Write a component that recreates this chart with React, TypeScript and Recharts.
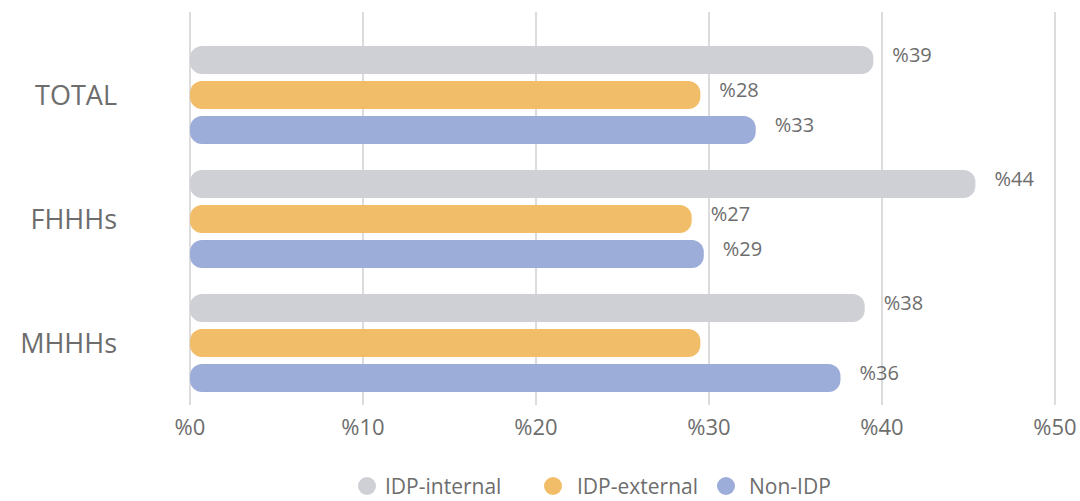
import { BarChart, Bar, XAxis, YAxis, CartesianGrid, Legend, LabelList } from "recharts";

const categories = ["TOTAL", "FHHHs", "MHHHs"];
const idpInternal = [39.5, 45.4, 39.0];
const idpExternal = [29.5, 29.0, 29.5];
const nonIdp = [32.7, 29.7, 37.6];
const internalLabels = ["%39", "%44", "%38"];
const externalLabels = ["%28", "%27", ""];
const nonIdpLabels = ["%33", "%29", "%36"];
const xTicks = [0, 10, 20, 30, 40, 50];

const series = [
  { key: "internal", name: "IDP-internal", color: "#cfd0d5", left: 358, gap: 9 },
  { key: "external", name: "IDP-external", color: "#f2bd69", left: 544, gap: 15 },
  { key: "nonidp", name: "Non-IDP", color: "#9dadd9", left: 717, gap: 14 },
];

const data = categories.map((c, i) => ({
  name: c,
  internal: idpInternal[i],
  external: idpExternal[i],
  nonidp: nonIdp[i],
  internalLabel: internalLabels[i],
  externalLabel: externalLabels[i],
  nonidpLabel: nonIdpLabels[i],
}));

const FONT = "'Open Sans', sans-serif";
const GREY = "#6d6d6d";

const ValueLabel = (props: any) => {
  const { x, y, width, height, value } = props;
  if (!value) return null;
  return (
    <text
      x={x + width + 19}
      y={y + height / 2 - 3}
      fill={GREY}
      fontSize={20}
      fontFamily={FONT}
      dominantBaseline="middle"
    >
      {value}
    </text>
  );
};

const LegendContent = () => (
  <div style={{ position: "relative", height: 30, fontFamily: FONT, fontSize: 21, color: GREY }}>
    {series.map((s) => (
      <div
        key={s.key}
        style={{ position: "absolute", left: s.left, top: 0, height: 30, display: "flex", alignItems: "center" }}
      >
        <span
          style={{
            width: 18,
            height: 18,
            borderRadius: 9,
            background: s.color,
            display: "inline-block",
            marginRight: s.gap,
          }}
        />
        <span>{s.name}</span>
      </div>
    ))}
  </div>
);

export default function App() {
  return (
    <div style={{ position: "absolute", left: 0, top: 0 }}>
      <BarChart
        width={1080}
        height={501}
        data={data}
        layout="vertical"
        margin={{ top: 12, right: 25, left: 0, bottom: 0 }}
        barSize={28}
        barGap={7}
        barCategoryGap={12}
      >
        <CartesianGrid horizontal={false} stroke="#dcdcdc" strokeWidth={2} />
        <XAxis
          type="number"
          domain={[0, 50]}
          ticks={xTicks}
          tickFormatter={(v) => `%${v}`}
          axisLine={false}
          tickLine={false}
          tickSize={0}
          tickMargin={14}
          height={66}
          tick={{ fill: GREY, fontSize: 22, fontFamily: FONT }}
        />
        <YAxis
          type="category"
          dataKey="name"
          width={190}
          axisLine={false}
          tickLine={false}
          tickSize={0}
          tickMargin={73}
          padding={{ top: 21, bottom: 0 }}
          tick={{ fill: GREY, fontSize: 27, fontFamily: FONT }}
        />
        <Legend verticalAlign="bottom" height={30} wrapperStyle={{ left: 0, width: 1080 }} content={LegendContent} />
        {series.map((s) => (
          <Bar key={s.key} dataKey={s.key} name={s.name} fill={s.color} radius={12} isAnimationActive={false}>
            <LabelList dataKey={`${s.key}Label`} content={ValueLabel} />
          </Bar>
        ))}
      </BarChart>
    </div>
  );
}
